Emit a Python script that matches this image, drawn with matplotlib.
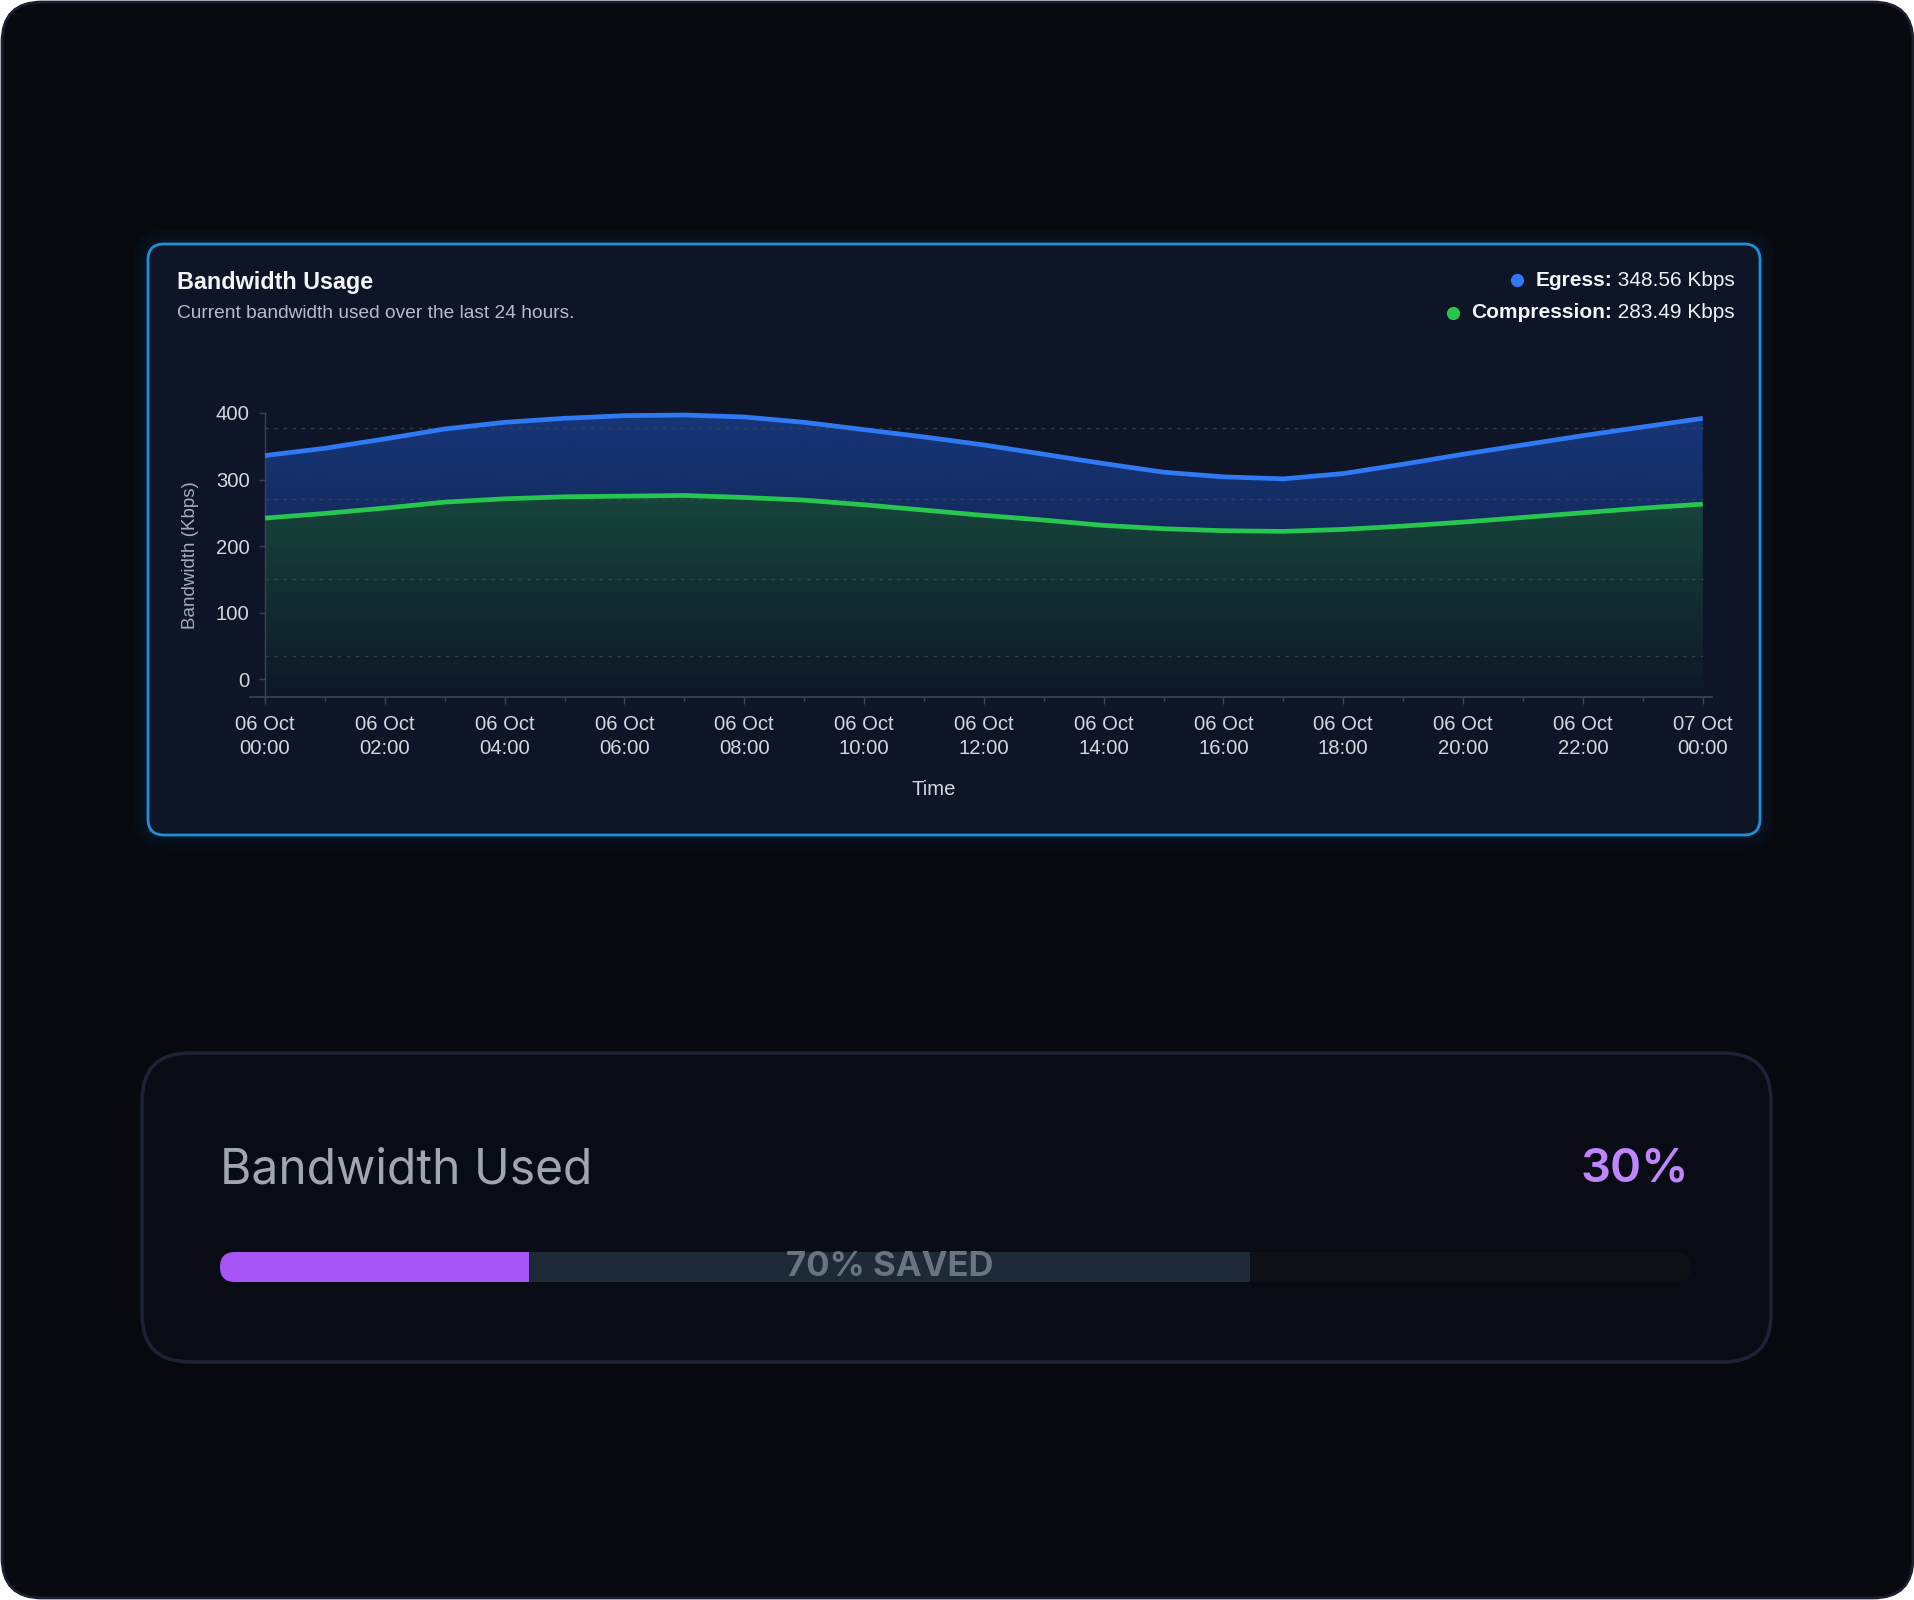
import numpy as np
import matplotlib
import matplotlib.pyplot as plt
from matplotlib.patches import FancyBboxPatch, PathPatch
from matplotlib.colors import to_rgb

matplotlib.rcParams['font.family'] = ['Liberation Sans', 'DejaVu Sans']

# ---- data ----
hours = list(range(25))
egress = [336, 347, 361, 376, 386, 392, 396, 397, 394, 386, 375, 364, 352,
          338, 324, 311, 304, 301, 309, 323, 338, 352, 366, 379, 392]
compression = [242, 249, 257, 266, 271, 274, 275, 276, 273, 269, 262, 254, 246,
               239, 231, 226, 223, 222, 225, 230, 236, 243, 250, 257, 263]
x_tick_hours = list(range(0, 25, 2))
x_tick_labels = ['06 Oct\n%02d:00' % h for h in range(0, 24, 2)] + ['07 Oct\n00:00']
y_ticks = [0, 100, 200, 300, 400]
grid_levels = [35, 150, 270, 378]

legend_names = ['Egress:', 'Compression:']
legend_values = ['348.56 Kbps', '283.49 Kbps']

used_pct = 30
saved_pct = 70
track_fill = 70   # share of the track taken by the used/saved bar

# ---- colours ----
page_bg = '#07090f'
card_bg = '#0d1527'
blue = '#3079f4'
green = '#27c64f'
purple = '#a855f7'

W, H = 1915, 1600
fig = plt.figure(figsize=(W / 100, H / 100), dpi=100, facecolor='white')

bg = fig.add_axes([0, 0, 1, 1])
bg.set_xlim(0, W)
bg.set_ylim(H, 0)
bg.axis('off')

# outer frame
bg.add_patch(FancyBboxPatch((2, 2), W - 4, H - 4, boxstyle='round,pad=0,rounding_size=40',
                            facecolor=page_bg, edgecolor='#1b2030', lw=2, zorder=0))

# chart card with a soft glow
cx0, cy0, cx1, cy1 = 148, 244, 1760, 835
for i, a in enumerate([0.05, 0.04, 0.03]):
    p = 4 + i * 5
    bg.add_patch(FancyBboxPatch((cx0 - p, cy0 - p), cx1 - cx0 + 2 * p, cy1 - cy0 + 2 * p,
                                boxstyle='round,pad=0,rounding_size=%d' % (16 + p),
                                facecolor='#1f6fd0', edgecolor='none', alpha=a, zorder=1))
bg.add_patch(FancyBboxPatch((cx0, cy0), cx1 - cx0, cy1 - cy0, boxstyle='round,pad=0,rounding_size=16',
                            facecolor=card_bg, edgecolor='#1f8fd8', lw=2, zorder=2))

bg.text(177, 282, 'Bandwidth Usage', fontsize=16.8, fontweight='bold', color='#f3f5f8',
        va='center', ha='left', zorder=3)
bg.text(177, 314, 'Current bandwidth used over the last 24 hours.', fontsize=13.8,
        color='#b7bdc8', va='center', ha='left', zorder=3)

# legend: bold name + normal value, right aligned
fig.canvas.draw()
renderer = fig.canvas.get_renderer()
inv = bg.transData.inverted()
for name, val, col, yy in zip(legend_names, legend_values, [blue, green], [280, 313]):
    t_val = bg.text(1735, yy, ' ' + val, fontsize=15, color='#eef1f5', va='center', ha='right', zorder=3)
    ext = t_val.get_window_extent(renderer)
    left_val = inv.transform((ext.x0, ext.y0))[0]
    t_name = bg.text(left_val, yy, name, fontsize=15, fontweight='bold', color='#f3f5f8',
                     va='center', ha='right', zorder=3)
    ext2 = t_name.get_window_extent(renderer)
    left_name = inv.transform((ext2.x0, ext2.y0))[0]
    bg.plot(left_name - 19, yy, 'o', ms=8.5, color=col, zorder=3)

# ---- the area chart ----
ax_l, ax_r, ax_t, ax_b = 250.4, 1712.3, 413, 697
ax = fig.add_axes([ax_l / W, 1 - ax_b / H, (ax_r - ax_l) / W, (ax_b - ax_t) / H])
ax.set_facecolor('none')
ymin, ymax = -27, 400
ax.set_xlim(-0.244, 24.16)
ax.set_ylim(ymin, ymax)

x0, x1 = hours[0], hours[-1]

# egress gradient fill
n = 256
rgb = np.array(to_rgb('#2563eb'))
grad = np.zeros((n, 1, 4))
grad[:, 0, :3] = rgb
grad[:, 0, 3] = np.linspace(0.08, 0.42, n)
im_b = ax.imshow(grad, extent=[x0, x1, ymin, ymax], origin='lower', aspect='auto', zorder=1)
poly_b = ax.fill_between(hours, egress, ymin, color='none', lw=0)
im_b.set_clip_path(PathPatch(poly_b.get_paths()[0], transform=ax.transData))

# compression gradient fill (opaque)
top_c = np.array(to_rgb('#18463d'))
bot_c = np.array(to_rgb('#0e1727'))
gradc = np.zeros((n, 1, 4))
tt = np.linspace(0, 1, n)[:, None]
gradc[:, 0, :3] = bot_c + (top_c - bot_c) * tt
gradc[:, 0, 3] = 1
im_g = ax.imshow(gradc, extent=[x0, x1, ymin, max(compression) + 5], origin='lower',
                 aspect='auto', zorder=2)
poly_g = ax.fill_between(hours, compression, ymin, color='none', lw=0)
im_g.set_clip_path(PathPatch(poly_g.get_paths()[0], transform=ax.transData))

ax.hlines(grid_levels, x0, x1, colors='#3a4558', linestyles=(0, (2.5, 4)), lw=1, alpha=0.8, zorder=3)

ax.plot(hours, egress, color=blue, lw=3.4, solid_joinstyle='round', solid_capstyle='butt',
        zorder=4, clip_on=False)
ax.plot(hours, compression, color=green, lw=3.4, solid_joinstyle='round', solid_capstyle='butt',
        zorder=4, clip_on=False)

for s in ['top', 'right']:
    ax.spines[s].set_visible(False)
ax.spines['left'].set_position(('data', 0))
ax.spines['left'].set_bounds(ymin, ymax)
ax.spines['left'].set_color('#3a4456')
ax.spines['bottom'].set_color('#3a4456')
ax.spines['left'].set_linewidth(1)
ax.spines['bottom'].set_linewidth(1.2)

ax.set_yticks(y_ticks)
ax.set_yticklabels([str(v) for v in y_ticks])
ax.set_xticks(x_tick_hours)
ax.set_xticklabels(x_tick_labels)
ax.set_xticks(hours, minor=True)
ax.tick_params(axis='x', which='major', length=5, width=1, color='#3a4456', pad=8,
               labelsize=14.6, labelcolor='#d3d7de')
ax.tick_params(axis='x', which='minor', length=3, width=1, color='#3a4456')
ax.tick_params(axis='y', length=4, width=1, color='#3a4456', pad=7, labelsize=14.6,
               labelcolor='#d3d7de')
for lab in ax.get_xticklabels():
    lab.set_linespacing(1.3)

ax.set_ylabel('Bandwidth (Kbps)', fontsize=13.5, color='#a5acb8', va='center')
ax.yaxis.set_label_coords(-0.041, 0.5)
ax.set_xlabel('Time', fontsize=14.6, color='#d3d7de', va='center')
ax.xaxis.set_label_coords(0.4676, -0.327)

# ---- bottom card ----
bx0, by0, bx1, by1 = 142, 1053, 1771, 1362
bg.add_patch(FancyBboxPatch((bx0, by0), bx1 - bx0, by1 - by0, boxstyle='round,pad=0,rounding_size=48',
                            facecolor='#090c15', edgecolor='#1e2235', lw=2.5, zorder=2))
bg.text(220, 1170, 'Bandwidth Used', fontsize=34.5, family=['Inter', 'DejaVu Sans'],
        color='#a0a5b0', va='center', ha='left', zorder=3)
bg.text(1689, 1170, '%d%%' % used_pct, fontsize=34, family=['Inter', 'DejaVu Sans'],
        fontweight='semibold', color='#c084fc', va='center', ha='right', zorder=3)

tr_l, tr_r, tr_t, tr_b = 220, 1691, 1252, 1282
bar = fig.add_axes([tr_l / W, 1 - tr_b / H, (tr_r - tr_l) / W, (tr_b - tr_t) / H])
bar.set_xlim(0, 100)
bar.set_ylim(0, 1)
bar.axis('off')
px_per_x = (tr_r - tr_l) / 100.0
px_per_y = (tr_b - tr_t) / 1.0
r = 0.5 * px_per_y / px_per_x
clip = FancyBboxPatch((0, 0), 100, 1, boxstyle='round,pad=0,rounding_size=%f' % r,
                      mutation_aspect=px_per_x / px_per_y, transform=bar.transData,
                      facecolor='none', edgecolor='none')
bar.add_patch(clip)
used_w = track_fill * used_pct / 100.0
saved_w = track_fill * saved_pct / 100.0
b1 = bar.barh(0.5, 100, height=1, left=0, color='#0e1016')
b2 = bar.barh(0.5, used_w, height=1, left=0, color=purple)
b3 = bar.barh(0.5, saved_w, height=1, left=used_w, color='#1e2938')
for b in [b1, b2, b3]:
    for rect in b:
        rect.set_clip_path(clip)
bar.text(used_w + saved_w / 2, 0.5, '%d%% SAVED' % saved_pct, fontsize=25, fontweight='bold',
         family=['Inter', 'DejaVu Sans'], color='#6b7280', ha='center', va='center')

fig.savefig('out.png', dpi=100, facecolor=fig.get_facecolor())
